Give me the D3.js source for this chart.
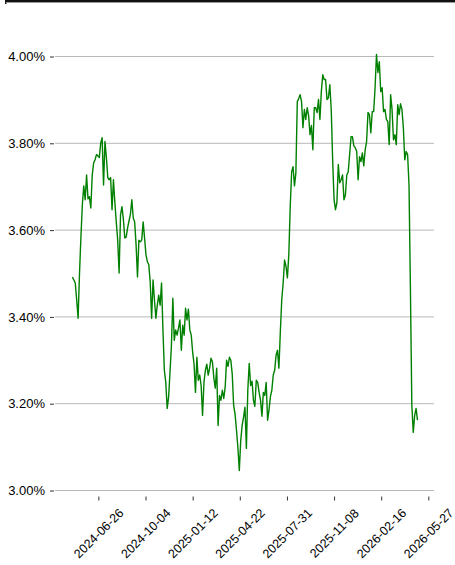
<!DOCTYPE html>
<html>
<head>
<meta charset="utf-8">
<script src="https://cdn.jsdelivr.net/npm/d3@7"></script>
<style>
  html, body { margin: 0; padding: 0; background: #ffffff; }
  svg { display: block; }
  text { font-family: "Liberation Sans", Arial, sans-serif; fill: #000; }
</style>
</head>
<body>
<svg id="chart" width="455" height="565"></svg>
<script>
// ---- data ----
const startDate = "2024-05-02";
const stepDays = 3;
const yieldValues = [
  3.492, 3.485, 3.478, 3.439, 3.397, 3.501, 3.584, 3.658, 3.702, 3.670,
  3.727, 3.672, 3.677, 3.651, 3.727, 3.755, 3.762, 3.774, 3.771, 3.767,
  3.801, 3.813, 3.704, 3.804, 3.767, 3.721, 3.716, 3.721, 3.647, 3.716,
  3.663, 3.619, 3.577, 3.501, 3.635, 3.654, 3.626, 3.582, 3.584, 3.605,
  3.621, 3.637, 3.670, 3.628, 3.619, 3.566, 3.492, 3.577, 3.573, 3.577,
  3.619, 3.582, 3.543, 3.527, 3.520, 3.480, 3.397, 3.485, 3.439, 3.397,
  3.427, 3.450, 3.427, 3.478, 3.370, 3.277, 3.249, 3.189, 3.215, 3.273,
  3.335, 3.443, 3.346, 3.370, 3.358, 3.374, 3.393, 3.323, 3.381, 3.358,
  3.420, 3.393, 3.418, 3.370, 3.358, 3.319, 3.291, 3.226, 3.307, 3.254,
  3.266, 3.242, 3.173, 3.249, 3.277, 3.291, 3.266, 3.282, 3.305, 3.296,
  3.259, 3.236, 3.282, 3.150, 3.219, 3.208, 3.231, 3.212, 3.238, 3.300,
  3.286, 3.307, 3.300, 3.268, 3.196, 3.176, 3.139, 3.099, 3.046, 3.115,
  3.150, 3.169, 3.192, 3.097, 3.231, 3.293, 3.242, 3.252, 3.208, 3.194,
  3.254, 3.249, 3.226, 3.208, 3.171, 3.226, 3.219, 3.249, 3.162, 3.185,
  3.217, 3.231, 3.266, 3.277, 3.312, 3.323, 3.282, 3.365, 3.439, 3.478,
  3.531, 3.517, 3.490, 3.543, 3.654, 3.734, 3.746, 3.702, 3.732, 3.896,
  3.903, 3.912, 3.896, 3.836, 3.878, 3.855, 3.882, 3.864, 3.820, 3.841,
  3.785, 3.882, 3.882, 3.871, 3.901, 3.855, 3.919, 3.958, 3.947, 3.947,
  3.901, 3.905, 3.935, 3.878, 3.762, 3.670, 3.647, 3.663, 3.751, 3.709,
  3.716, 3.727, 3.670, 3.681, 3.727, 3.734, 3.774, 3.815, 3.815, 3.794,
  3.790, 3.781, 3.716, 3.769, 3.758, 3.778, 3.748, 3.785, 3.804, 3.871,
  3.866, 3.824, 3.873, 3.873, 3.928, 4.005, 3.963, 3.988, 3.919, 3.928,
  3.873, 3.878, 3.855, 3.850, 3.797, 3.912, 3.878, 3.808, 3.820, 3.797,
  3.889, 3.866, 3.891, 3.878, 3.836, 3.762, 3.781, 3.774, 3.704, 3.462,
  3.196, 3.134, 3.173, 3.189, 3.162
];
const xTickLabels = ["2024-06-26", "2024-10-04", "2025-01-12", "2025-04-22",
                     "2025-07-31", "2025-11-08", "2026-02-16", "2026-05-27"];
const yTickValues = [3.0, 3.2, 3.4, 3.6, 3.8, 4.0];
const xDomain = ["2024-03-26", "2026-06-08"];

// ---- build ----
const parse = d3.utcParse("%Y-%m-%d");
const start = parse(startDate);
const series = yieldValues.map((v, i) => ({ date: d3.utcDay.offset(start, i * stepDays), value: v }));

const svg = d3.select("#chart");

// top frame edge
svg.append("rect").attr("x", 5).attr("y", 0).attr("width", 450).attr("height", 2).attr("fill", "#111");
svg.append("rect").attr("x", 5).attr("y", 0).attr("width", 1.5).attr("height", 4).attr("fill", "#111");
svg.append("line").attr("x1", 6).attr("x2", 455).attr("y1", 2.5).attr("y2", 2.5)
  .attr("stroke", "#9a9a9a").attr("stroke-width", 1);

const x = d3.scaleUtc().domain(xDomain.map(parse)).range([55, 434]);
const y = d3.scaleLinear().domain([3.0, 4.0]).range([490.5, 56.5]);

// horizontal grid
svg.append("g").selectAll("line").data(yTickValues).join("line")
  .attr("x1", 55).attr("x2", 434)
  .attr("y1", d => y(d)).attr("y2", d => y(d))
  .attr("stroke", "#b8b8b8").attr("stroke-width", 1);

// y axis
const yAxis = d3.axisLeft(y).tickValues(yTickValues)
  .tickFormat(d => d.toFixed(2) + "%").tickSize(4).tickPadding(5);
const gy = svg.append("g").attr("transform", "translate(54,0)").call(yAxis);
gy.select(".domain").remove();
gy.selectAll(".tick line").attr("stroke", "#333");
gy.selectAll(".tick text").attr("font-size", 13).attr("font-family", "Liberation Sans, Arial, sans-serif").attr("fill", "#000");

// x axis
const xTicks = xTickLabels.map(parse);
const xAxis = d3.axisBottom(x).tickValues(xTicks).tickFormat(d3.utcFormat("%Y-%m-%d")).tickSize(4).tickPadding(0);
const gx = svg.append("g").attr("transform", "translate(0,496.5)").call(xAxis);
gx.select(".domain").remove();
gx.selectAll(".tick line").attr("stroke", "#333");
gx.selectAll(".tick text")
  .attr("font-size", 12.5).attr("font-family", "Liberation Sans, Arial, sans-serif").attr("fill", "#000")
  .attr("text-anchor", "middle").attr("dy", null).attr("y", null)
  .attr("dominant-baseline", "central")
  .attr("transform", "translate(0,37) rotate(-45)");

// line
const line = d3.line().x(d => x(d.date)).y(d => y(d.value));
svg.append("path").datum(series)
  .attr("d", line)
  .attr("fill", "none")
  .attr("stroke", "#008000")
  .attr("stroke-width", 1.4)
  .attr("stroke-linejoin", "round");
</script>
</body>
</html>
